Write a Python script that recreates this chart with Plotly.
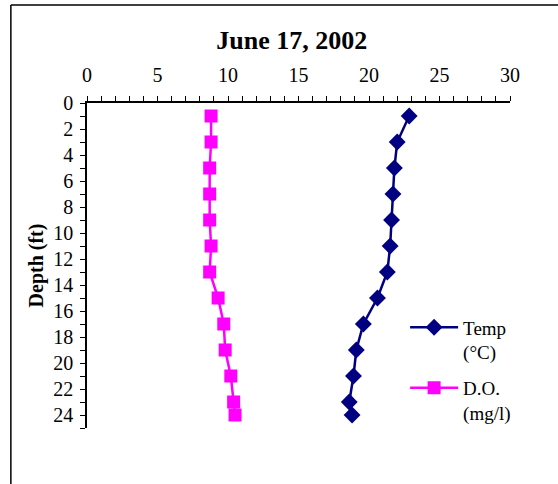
import plotly.graph_objects as go

# Depth profile, June 17, 2002
depth_ft = [1, 3, 5, 7, 9, 11, 13, 15, 17, 19, 21, 23, 24]
temp_c = [22.85, 22.0, 21.8, 21.7, 21.6, 21.5, 21.3, 20.6, 19.6, 19.1, 18.9, 18.6, 18.8]
do_mgl = [8.8, 8.8, 8.7, 8.7, 8.7, 8.8, 8.7, 9.3, 9.7, 9.8, 10.2, 10.4, 10.5]

serif = "Liberation Serif, Times New Roman, serif"

fig = go.Figure()
fig.add_trace(go.Scatter(
    x=temp_c, y=depth_ft, mode="lines+markers", name="Temp<br>(°C)",
    legendgroup="temp",
    line=dict(color="#000080", width=2.5),
    marker=dict(symbol="diamond", size=13, color="#000080"),
))
fig.add_trace(go.Scatter(
    x=do_mgl, y=depth_ft, mode="lines+markers", name="D.O.<br>(mg/l)",
    legendgroup="do",
    line=dict(color="#FF00FF", width=2.5),
    marker=dict(symbol="square", size=13, color="#FF00FF"),
))

fig.update_layout(
    width=558, height=484,
    margin=dict(l=87, r=48, t=103, b=56),
    paper_bgcolor="white", plot_bgcolor="white",
    font=dict(family=serif, color="black", size=20),
    title=dict(text="<b>June 17, 2002</b>", x=0.523, xanchor="center",
               y=0.917, yanchor="middle", font=dict(size=26, family=serif)),
    showlegend=True,
    legend=dict(x=0.752, y=0.368, xanchor="left", yanchor="top", valign="top",
                font=dict(size=19, family=serif), bgcolor="rgba(0,0,0,0)",
                traceorder="grouped", tracegroupgap=8, itemwidth=48),
    xaxis=dict(side="top", range=[0, 30], dtick=5, showgrid=False, zeroline=False,
               showline=True, linecolor="black", linewidth=1.5,
               ticks="outside", ticklen=5, tickcolor="black", ticklabelstandoff=6,
               minor=dict(dtick=1, ticks="outside", ticklen=5, tickcolor="black", showgrid=False),
               tickfont=dict(size=20, family=serif)),
    yaxis=dict(range=[25, 0], dtick=2, showgrid=False, zeroline=False,
               showline=True, linecolor="black", linewidth=1.5,
               ticks="outside", ticklen=5, tickcolor="black", ticklabelstandoff=3,
               minor=dict(dtick=1, ticks="outside", ticklen=5, tickcolor="black", showgrid=False),
               tickfont=dict(size=20, family=serif),
               title=dict(text="<b>Depth (ft)</b>", font=dict(size=20, family=serif), standoff=4)),
)

# Outer chart frame (top and left edges)
fig.add_shape(type="line", xref="paper", yref="paper",
              x0=-0.18, x1=1.12, y0=1.3015, y1=1.3015,
              line=dict(color="black", width=1.5))
fig.add_shape(type="line", xref="paper", yref="paper",
              x0=-0.18, x1=-0.18, y0=1.3015, y1=-0.18,
              line=dict(color="black", width=1.5))

fig.write_html("out.html")
